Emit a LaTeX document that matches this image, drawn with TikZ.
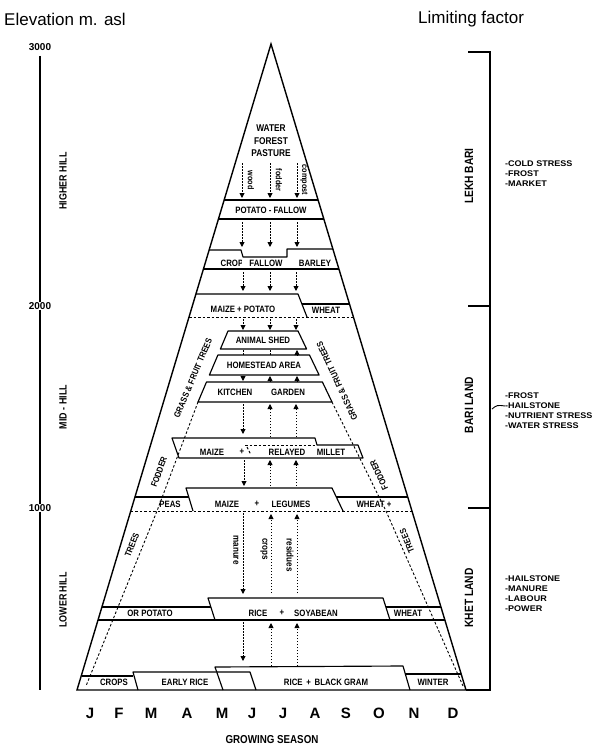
\documentclass[tikz,border=0pt]{standalone}
\usepackage{fontspec}
\setmainfont{Liberation Sans}
\newfontfamily\cf{Liberation Sans}[FakeStretch=0.85]
\newfontfamily\wf{Liberation Sans}[FakeStretch=1.1]
\usetikzlibrary{arrows.meta}
\tikzset{
 lab/.style={font=\cf\bfseries\fontsize{9.2}{10}\selectfont, inner sep=0pt},
 sml/.style={font=\cf\bfseries\fontsize{8.5}{9}\selectfont, inner sep=0pt},
 side/.style={font=\cf\bfseries\fontsize{8.8}{9}\selectfont, inner sep=0pt},
 zone/.style={font=\cf\bfseries\fontsize{12}{13}\selectfont, inner sep=0pt, rotate=90},
 hill/.style={font=\cf\bfseries\fontsize{10.5}{11}\selectfont, inner sep=0pt, rotate=90},
 elev/.style={font=\bfseries\fontsize{10}{11}\selectfont, inner sep=0pt},
 month/.style={font=\bfseries\fontsize{15}{16}\selectfont, inner sep=0pt},
 lim/.style={font=\wf\bfseries\fontsize{8.2}{9}\selectfont, inner sep=0pt, anchor=west},
 outl/.style={line width=1.15pt, line join=round},
 dline/.style={dash pattern=on 2.5pt off 2pt, line width=0.9pt},
 darr/.style={dash pattern=on 1.5pt off 1.5pt, line width=0.9pt, -{Triangle[length=5pt,width=5pt]}},
 dots/.style={dash pattern=on 1.5pt off 1.5pt, line width=0.9pt},
}
\begin{document}
\begin{tikzpicture}[x=1pt,y=-1pt]
\useasboundingbox (0,0) rectangle (607,756);
% ---------- titles
\node[font=\fontsize{17}{18}\selectfont, anchor=west, inner sep=0] (elevt) at (4,19) {Elevation m. asl};
\node[font=\fontsize{17}{18}\selectfont, anchor=west, inner sep=0] (limt) at (418,19) {Limiting factor};
% ---------- left axis
\node[elev] (e3) at (40,47) {3000};
\node[elev] (e2) at (40,306) {2000};
\node[elev] (e1) at (40,508) {1000};
\coordinate (ax0) at (40,690);
\draw[line width=1.2pt] (e3.south) ++(0,5) -- (e2.north);
\draw[line width=1.2pt] (e2.south) -- (e1.north);
\draw[line width=1.2pt] (e1.south) -- (ax0);
\node[hill] (hh) at (63,181) {HIGHER HILL};
\node[hill] (mh) at (63,407) {MID - HILL};
\node[hill] (lh) at (63,600) {LOWER HILL};
% ---------- right bracket
\coordinate (rb0) at (468,52); \coordinate (rb0r) at (490,52);
\coordinate (rb1) at (468,306); \coordinate (rb1r) at (490,306);
\coordinate (rb2) at (468,508); \coordinate (rb2r) at (490,508);
\coordinate (rb3) at (466,690); \coordinate (rb3r) at (490,690);
\draw[line width=1.2pt] (rb0) -- (rb0r) -- (rb3r) -- (rb3);
\draw[line width=1.2pt] (rb1) -- (rb1r);
\draw[line width=1.2pt] (rb2) -- (rb2r);
\node[zone] (lekh) at (469,176) {LEKH BARI};
\node[zone] (bari) at (469,405) {BARI LAND};
\node[zone] (khet) at (469,598) {KHET LAND};
% limiting factors
\node[lim] (l1) at (505,164) {-COLD STRESS};
\node[lim] (l2) at (505,174) {-FROST};
\node[lim] (l3) at (505,184) {-MARKET};
\node[lim] (m1) at (505,396) {-FROST};
\node[lim] (m2) at (505,406) {-HAILSTONE};
\node[lim] (m3) at (505,416) {-NUTRIENT STRESS};
\node[lim] (m4) at (505,426) {-WATER STRESS};
\node[lim] (k1) at (505,579) {-HAILSTONE};
\node[lim] (k2) at (505,589) {-MANURE};
\node[lim] (k3) at (505,599) {-LABOUR};
\node[lim] (k4) at (505,609) {-POWER};
\coordinate (ptr) at (492,409);
\draw[line width=0.9pt] (ptr) .. controls (497,405) .. (m2.west);
% ---------- pyramid
\coordinate (apex) at (271,44); \coordinate (bl) at (77,690); \coordinate (br) at (466,690);
\draw[line width=1.4pt, line join=miter] (bl) -- (apex) -- (br) -- cycle;
% top
\node[lab, align=center, font=\cf\bfseries\fontsize{9.8}{12.5}\selectfont] (wfp) at (271,141) {WATER\\FOREST\\PASTURE};
% potato fallow band
\draw[outl] (224.2,200) -- (318.1,200);
\draw[outl] (218.4,219) -- (323.8,219);
\node[lab] (pf) at (271,210) {POTATO - FALLOW};
% crop fallow barley
\node[lab] (crop) at (232,263) {CROP};
\fill[white] (241.6,258) rectangle (286,267.5);
\draw[outl] (209.1,250) -- (241,250) -- (243,257) -- (287,257) -- (287,249) -- (332.9,249);
\draw[outl] (203.4,269) -- (338.9,269);
\node[lab] (fal) at (266,263) {FALLOW};
\node[lab] (bar) at (315,263) {BARLEY};
% maize potato wheat
\draw[outl] (195.9,294) -- (298,294) -- (307,317);
\draw[outl] (301.9,304) -- (349.5,304);
\draw[dline] (189,317) -- (353.4,317);
\node[lab] (mp) at (243,309) {MAIZE + POTATO};
\node[lab] (wh1) at (326,310) {WHEAT};
% homestead stack
\draw[outl] (228,331) -- (298,331) -- (306.6,349) -- (220.4,349) -- cycle;
\draw[outl] (217.9,355) -- (309.5,355) -- (319.1,375) -- (209.4,375) -- cycle;
\draw[outl] (206.5,382) -- (322.4,382) -- (332,402) -- (198,402) -- cycle;
\node[lab] (as) at (263,340) {ANIMAL SHED};
\node[lab] (ha) at (264,365.5) {HOMESTEAD AREA};
\node[lab] (kit) at (235,392.5) {KITCHEN};
\node[lab] (gar) at (288,392.5) {GARDEN};
% maize relayed millet
\draw[outl] (172,438) -- (315,438) -- (317,445) -- (358,445) -- (363,458) -- (179,458) -- cycle;
\draw[dline] (245,445) -- (317,445);
\draw[dline] (247,447) -- (251,455);
\node[lab] (mz1) at (212,452) {MAIZE};
\node[lab] (pl1) at (242,452) {+};
\node[lab] (rel) at (287,452) {RELAYED};
\node[lab] (mil) at (331,452) {MILLET};
% peas maize legumes wheat
\draw[outl] (135,497) -- (188.7,497);
\draw[outl] (193,511) -- (186,488) -- (332,488) -- (343,511);
\draw[outl] (336.3,497) -- (407.7,497);
\draw[dline] (130.8,511) -- (412,511);
\node[lab] (peas) at (170,504) {PEAS};
\node[lab] (mz2) at (227,504) {MAIZE};
\node[lab] (pl2) at (257,504) {+};
\node[lab] (leg) at (291,504) {LEGUMES};
\node[lab] (wh2) at (374,504) {WHEAT +};
% rice soyabean
\draw[outl] (101.9,607) -- (210.9,607);
\draw[outl] (215,620) -- (208,598) -- (383,598) -- (390,620);
\draw[outl] (385.9,607) -- (440.9,607);
\draw[outl] (98,620) -- (444.9,620);
\node[lab] (orp) at (150,613) {OR POTATO};
\node[lab] (rice1) at (258,613) {RICE};
\node[lab] (pl3) at (282,613) {+};
\node[lab] (soy) at (316,613) {SOYABEAN};
\node[lab] (wh3) at (408,613) {WHEAT};
% bottom band
\draw[outl] (81.5,676) -- (133,676);
\draw[outl] (138,690) -- (133,672) -- (216,672);
\draw[outl] (223,690) -- (215,667) -- (403,666) -- (410,690);
\draw[outl] (217,672) -- (250,672) -- (256,690);
\draw[outl] (404.5,674) -- (461.2,674);
\node[lab] (crops) at (114,682) {CROPS};
\node[lab] (er) at (185,682) {EARLY RICE};
\node[lab] (rbg) at (326,682) {RICE \,+\, BLACK GRAM};
\node[lab] (win) at (433,682) {WINTER};
% dashed inner boundaries
\draw[dline] (198,402) -- (157,511) -- (86,686);
\draw[dline] (332,402) -- (386,511) -- (463,686);
\node[side, rotate=67] (gl) at (193,378) {GRASS \& FRUIT TREES};
\node[side, rotate=115] (gr) at (337,381) {GRASS \& FRUIT TREES};
\node[side, rotate=70] (fl) at (159,472) {FODDER};
\node[side, rotate=115] (fr) at (379,475) {FODDER};
\node[side, rotate=68] (tl) at (132,545) {TREES};
\node[side, rotate=113] (tr) at (407,541) {TREES};
% ---------- flow arrows
\foreach \n/\x/\ya/\yb in {a1/242/163/198, a2/270/163/198, a3/297/163/198,
  b1/242/222/247, b2/270/222/247, b3/297/222/247,
  c1/243/272/291, c2/270/272/291, c3/296/272/291,
  d1/243/319/330, d2/270/319/330, d3/296/319/330,
  e3/297/355/350,
  f1/243/376/381, f2/270/381/376, f3/297/381/376,
  h1/243/404/434, h2/270/437/404, h3/296/437/404,
  i1/244/460/486, i2/270/486/460, i3/296/486/460,
  j1/243/513/594, j2/271/593/514, j3/297/593/514,
  k1/243/622/661, k2/271/666/623, k3/297/666/623}{
  \coordinate (s\n) at (\x,\ya);
  \coordinate (t\n) at (\x,\yb);
  \draw[darr] (s\n) -- (t\n);
}
\coordinate (se1) at (243,350); \coordinate (te1) at (243,355);
\coordinate (se2) at (270,350); \coordinate (te2) at (270,355);
\draw[dots] (se1) -- (te1);
\draw[dots] (se2) -- (te2);
\node[sml, rotate=-90] (wood) at (251,180) {wood};
\node[sml, rotate=-90] (fod) at (279,180) {fodder};
\node[sml, rotate=-90] (comp) at (304,180) {compost};
\node[sml, rotate=-90, font=\cf\bfseries\fontsize{9.5}{10}\selectfont] (man) at (236,550) {manure};
\node[sml, rotate=-90, font=\cf\bfseries\fontsize{9.5}{10}\selectfont] (crp) at (264,549) {crops};
\node[sml, rotate=-90, font=\cf\bfseries\fontsize{9.5}{10}\selectfont] (res) at (290,555) {residues};
% ---------- months
\foreach \m/\x [count=\i] in {J/90, F/119, M/151, A/187, M/222, J/252, J/283, A/315, S/346, O/379, N/414, D/453}{
  \node[month] (mo\i) at (\x,713) {\m};
}
\node[font=\cf\bfseries\fontsize{11.5}{12}\selectfont, inner sep=0] (gs) at (272,740) {GROWING SEASON};
\end{tikzpicture}
\end{document}
